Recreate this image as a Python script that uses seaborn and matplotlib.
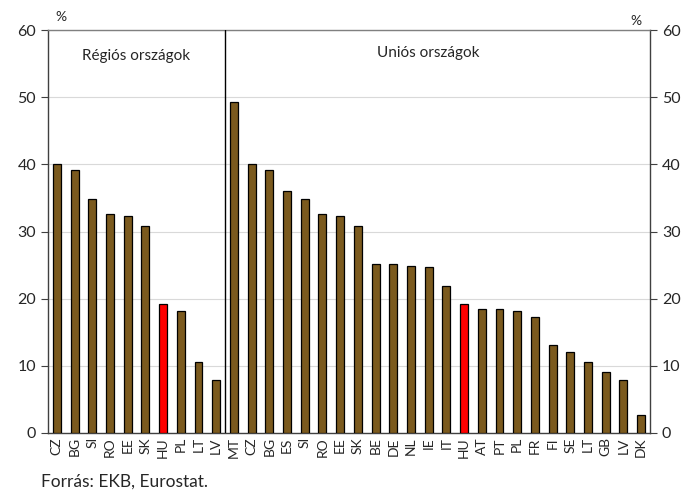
import numpy as np
import pandas as pd
import seaborn as sns
import matplotlib.pyplot as plt
from matplotlib.ticker import FixedLocator

regional_codes = ["CZ", "BG", "SI", "RO", "EE", "SK", "HU", "PL", "LT", "LV"]
regional_values = [40.0, 39.1, 34.9, 32.6, 32.3, 30.8, 19.2, 18.1, 10.6, 7.9]

union_codes = ["MT", "CZ", "BG", "ES", "SI", "RO", "EE", "SK", "BE", "DE", "NL", "IE",
               "IT", "HU", "AT", "PT", "PL", "FR", "FI", "SE", "LT", "GB", "LV", "DK"]
union_values = [49.3, 40.0, 39.1, 36.1, 34.9, 32.6, 32.3, 30.8, 25.1, 25.1, 24.8, 24.7,
                21.9, 19.2, 18.4, 18.4, 18.1, 17.3, 13.1, 12.0, 10.6, 9.1, 7.9, 2.7]

labels = regional_codes + union_codes
values = regional_values + union_values
df = pd.DataFrame({
    "key": [f"{i}_{c}" for i, c in enumerate(labels)],
    "value": values,
    "kind": ["hu" if c == "HU" else "other" for c in labels],
})

sns.set_style("white")
plt.rcParams["font.family"] = ["Lato", "DejaVu Sans"]

fig = plt.figure(figsize=(6.9, 4.97), dpi=100)
ax = fig.add_axes([48 / 690, 1 - 433 / 497, 602 / 690, 403 / 497])

sns.barplot(data=df, x="key", y="value", hue="kind",
            palette={"hu": "#ff0000", "other": "#7b5a1e"}, saturation=1,
            width=0.45, dodge=False, legend=False,
            edgecolor="black", linewidth=0.9, ax=ax, zorder=3)

n = len(labels)
ax.set_xlim(-0.5, n - 0.5)
ax.set_ylim(0, 60)
ax.set_yticks(range(0, 61, 10))
ax.set_xticks(range(n))
ax.set_xticklabels(labels, rotation=90, fontsize=10)
ax.xaxis.set_minor_locator(FixedLocator(np.arange(-0.5, n, 1)))
ax.tick_params(axis="x", which="major", length=0, pad=3)
ax.tick_params(axis="x", which="minor", length=5, width=0.8, color="#404040", direction="out")
ax.tick_params(axis="y", length=5, width=0.8, color="#404040", labelsize=11.5, direction="out")
ax.set_xlabel("")
ax.set_ylabel("")

ax.grid(axis="y", color="#d9d9d9", linewidth=0.8, zorder=0)

for side in ["left", "right", "bottom"]:
    ax.spines[side].set_color("#404040")
    ax.spines[side].set_linewidth(1.0)
ax.spines["top"].set_color("#808080")
ax.spines["top"].set_linewidth(1.0)

ax2 = ax.twinx()
ax2.set_ylim(0, 60)
ax2.set_yticks(range(0, 61, 10))
ax2.tick_params(axis="y", length=5, width=0.8, color="#404040", labelsize=11.5, direction="out")
for s in ax2.spines.values():
    s.set_visible(False)

ax.axvline(len(regional_codes) - 0.5, color="black", linewidth=1.0, zorder=4)

ax.text(0.5 * (len(regional_codes) - 1), 56.2, "Régiós országok", ha="center", va="center", fontsize=11)
ax.text(len(regional_codes) + 0.5 * (len(union_codes) - 1) - 0.5, 56.6, "Uniós országok",
        ha="center", va="center", fontsize=11)

fig.text(61 / 690, 1 - 17 / 497, "%", ha="center", va="center", fontsize=10)
fig.text(636 / 690, 1 - 21 / 497, "%", ha="center", va="center", fontsize=10)
fig.text(41 / 690, 1 - 482 / 497, "Forrás: EKB, Eurostat.", ha="left", va="center", fontsize=12.5)

plt.savefig("out.png", dpi=100)
